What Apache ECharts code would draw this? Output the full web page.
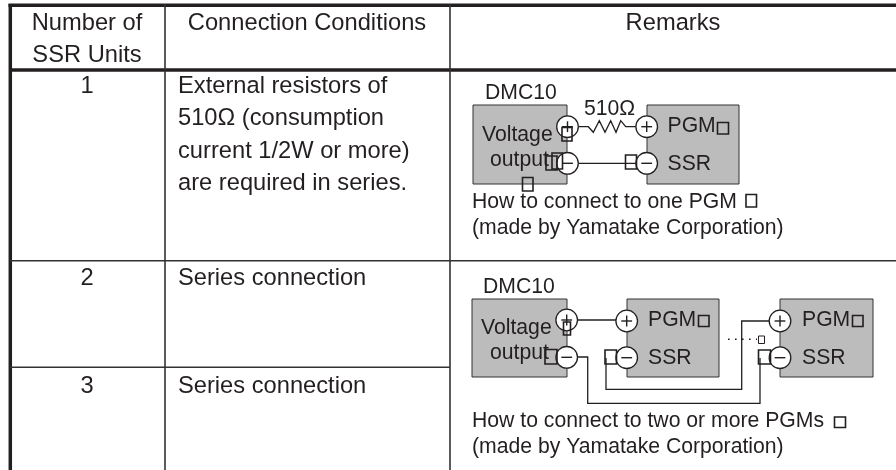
<!DOCTYPE html>
<html><head><meta charset="utf-8">
<style>html,body{margin:0;padding:0;background:#fff}#c{width:896px;height:470px}</style>
<script src="https://cdn.jsdelivr.net/npm/echarts@6/dist/echarts.min.js"></script>
</head><body><div id="c"></div>
<script>
// Table content
const headerText = [['Number of',87,32],['SSR Units',87,64],['Connection Conditions',307,32],['Remarks',673,32]];
const unitCounts = [['1',87,95],['2',87,287],['3',87,395]];
const conditionText = [['External resistors of',178,95],['510Ω (consumption',178,127],['current 1/2W or more)',178,159.5],['are required in series.',178,192],['Series connection',178,287],['Series connection',178,395]];
// Diagram labels
const diagramText = [
 ['DMC10',485,100.5],['510Ω',584,116.5],['Voltage',482,142],['output',490,167],['PGM',667.5,133.5],['SSR',667.5,171.5],
 ['How to connect to one PGM',472,209],['(made by Yamatake Corporation)',472,235.5],
 ['DMC10',483,294],['Voltage',481,335.5],['output',490,360.5],['PGM',648,327],['SSR',648,365.5],['PGM',802,327],['SSR',802,365.5],
 ['How to connect to two or more PGMs',472,428],['(made by Yamatake Corporation)',472,454]
];
// Table rules
const thickRules = [[8.5,5.3,896,5.3],[10.3,4,10.3,470],[10,70,896,70]];
const thinRules = [[10,260.8,896,260.8],[10,367.3,450,367.3],[165,4,165,470],[450,4,450,470]];
// Units (grey boxes)
const unitBoxes = [[473,105,567,184],[647,105,739,184],[472,299,567,377],[627,299,719,377],[780,299,873,377]];
// Terminals
const plusTerminals = [[567.5,126.7],[646.7,126.7],[566.7,320],[626.7,321],[780,321]];
const minusTerminals = [[567.5,163.3],[646.7,163.3],[566.7,357.3],[626.7,357.7],[780,357.7]];
// Wires
const wires = [
 [[578,126.7],[588.3,126.7],[593.3,132.3],[599.3,120.7],[605,132.3],[610.7,120.7],[616,132.3],[620.7,120.7],[625.7,126.7],[636,126.7]],
 [[578,163.3],[636,163.3]],
 [[577,320],[616,320]],
 [[577,357],[587.7,357],[587.7,403.3],[760,403.3],[760,358]],
 [[606,358],[606,389.3],[741.7,389.3],[741.7,321],[769,321]]
];
const ellipsisDots = [[[728,339.3],[757,339.3]]];
// Missing-glyph boxes present in the source
const glyphBoxes = [[717.5,122.5,728.5,134],[562,127.5,572,141],[552,153,562.5,169],[546,156,557,170],[625.5,155,636.5,169],[522.5,177.5,533,191],[746,194.5,756.5,207],
 [563.5,322,570.5,335],[545,349.5,557,364],[605,350,616.5,364],[758.5,350,770.5,364],[698.5,315.5,709,326.5],[852.5,315.5,863,326.5],[834.5,417,845.5,427.5]];
const smallGlyphBoxes = [[758.5,336,764.5,343.5]];

const INK='#231f20', GREY='#bcbcbc';
function xy(api,p){return api.coord([p[0],p[1]]);}
function custom(name,data,render,z){
  return {type:'custom',name,coordinateSystem:'cartesian2d',silent:true,clip:false,z:z,
    encode:{x:0,y:1},data:data.map((d,i)=>[Array.isArray(d[0])?d[0][0]:d[0],Array.isArray(d[0])?d[0][1]:d[1],i]),
    renderItem:(p,api)=>render(data[api.value(2)],api)};
}
function lineEl(d,api,w,col,dash){
  const a=xy(api,[d[0],d[1]]),b=xy(api,[d[2],d[3]]);
  return {type:'line',shape:{x1:a[0],y1:a[1],x2:b[0],y2:b[1]},style:{stroke:col,lineWidth:w,lineDash:dash}};
}
function rectEl(d,api,fill,stroke,w){
  const a=xy(api,[d[0],d[1]]),b=xy(api,[d[2],d[3]]);
  return {type:'rect',shape:{x:a[0],y:a[1],width:b[0]-a[0],height:b[1]-a[1]},style:{fill:fill,stroke:stroke,lineWidth:w}};
}
function polyEl(pts,api,w,dash){
  return {type:'polyline',shape:{points:pts.map(p=>xy(api,p))},style:{fill:'none',stroke:INK,lineWidth:w,lineDash:dash}};
}
function textEl(d,api,size,align){
  const a=xy(api,[d[1],d[2]]);
  return {type:'text',x:a[0],y:a[1]-0.3465*size,style:{text:d[0],fill:INK,font:size+'px "Liberation Sans"',textAlign:align,textVerticalAlign:'middle',verticalAlign:'middle'}};
}
const R=10.8, S=5.4;
function terminal(p,api,plus){
  const c=xy(api,p);
  const kids=[{type:'circle',shape:{cx:c[0],cy:c[1],r:R},style:{fill:'#fff',stroke:INK,lineWidth:1.3}},
    {type:'line',shape:{x1:c[0]-S,y1:c[1],x2:c[0]+S,y2:c[1]},style:{stroke:INK,lineWidth:1.4}}];
  if(plus) kids.push({type:'line',shape:{x1:c[0],y1:c[1]-S,x2:c[0],y2:c[1]+S},style:{stroke:INK,lineWidth:1.4}});
  return {type:'group',children:kids};
}
const TABLE_FS=23.7, DIAG_FS=21.2;
const option={
  animation:false,backgroundColor:'#fff',
  grid:{left:0,right:0,top:0,bottom:0},
  xAxis:{type:'value',min:0,max:896,show:false},
  yAxis:{type:'value',min:0,max:470,inverse:true,show:false},
  series:[
    custom('thick rules',thickRules,(d,api)=>lineEl(d,api,3.5,INK),2),
    custom('thin rules',thinRules,(d,api)=>lineEl(d,api,1.6,'#333'),2),
    custom('units',unitBoxes,(d,api)=>rectEl(d,api,GREY,'#333',1),3),
    custom('wires',wires,(d,api)=>polyEl(d,api,1.3),4),
    custom('dots',ellipsisDots,(d,api)=>polyEl(d,api,1.6,[1.6,5.4]),4),
    custom('plus',plusTerminals,(d,api)=>terminal(d,api,true),5),
    custom('minus',minusTerminals,(d,api)=>terminal(d,api,false),5),
    custom('header',headerText,(d,api)=>textEl(d,api,TABLE_FS,'center'),6),
    custom('units count',unitCounts,(d,api)=>textEl(d,api,TABLE_FS,'center'),6),
    custom('conditions',conditionText,(d,api)=>textEl(d,api,TABLE_FS,'left'),6),
    custom('diagram text',diagramText,(d,api)=>textEl(d,api,DIAG_FS,'left'),6),
    custom('glyph boxes',glyphBoxes,(d,api)=>rectEl(d,api,'none',INK,1.6),7),
    custom('small glyph boxes',smallGlyphBoxes,(d,api)=>rectEl(d,api,'none',INK,1),7)
  ]
};
const chart=echarts.init(document.getElementById('c'),null,{renderer:'canvas'});
chart.setOption(option);
</script></body></html>
